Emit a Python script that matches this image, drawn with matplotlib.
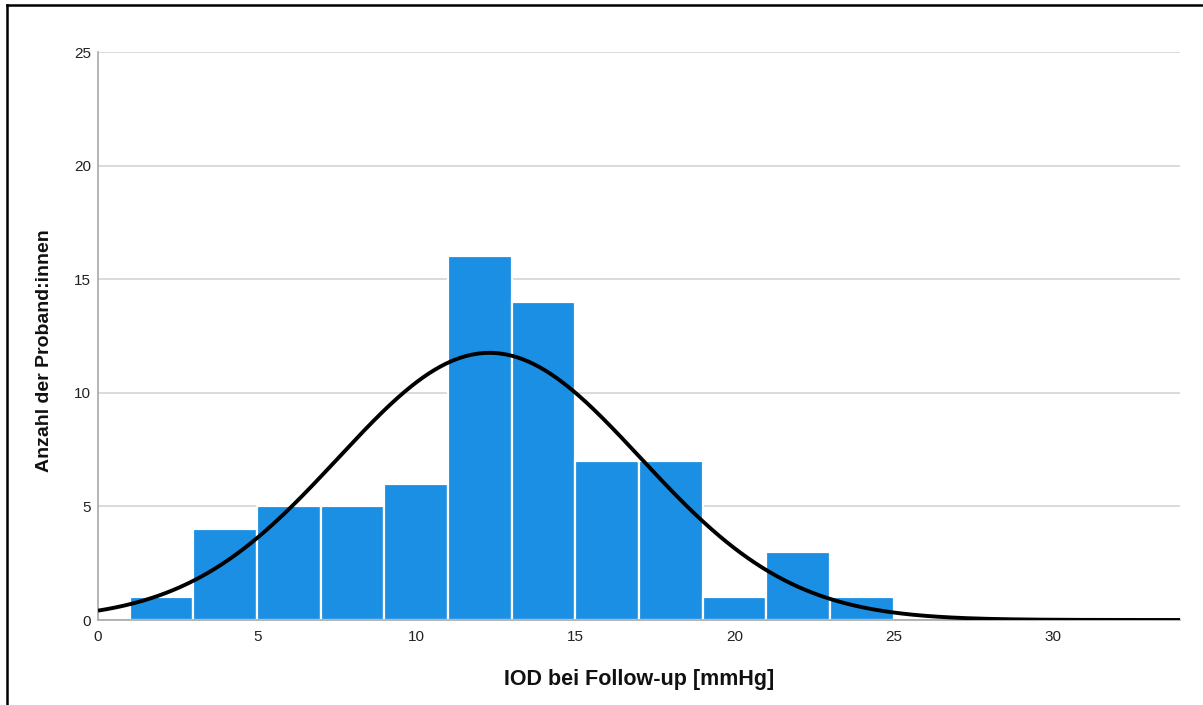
import numpy as np
import matplotlib
matplotlib.use("Agg")
import matplotlib.pyplot as plt
from matplotlib.lines import Line2D

# Data
bin_left = [1, 3, 5, 7, 9, 11, 13, 15, 17, 19, 21, 23]
counts = [1, 4, 5, 5, 6, 16, 14, 7, 7, 1, 3, 1]
bin_width = 2
fit_mean = 12.3
fit_sd = 4.75
x_ticks = [0, 5, 10, 15, 20, 25, 30]
y_ticks = [0, 5, 10, 15, 20, 25]
x_label = "IOD bei Follow-up [mmHg]"
y_label = "Anzahl der Proband:innen"

plt.rcParams['font.family'] = ['Liberation Sans', 'DejaVu Sans']

fig = plt.figure(figsize=(12.03, 7.05), dpi=100)
ax = fig.add_axes([98/1203, 1-620/705, (1180-98)/1203, (620-52)/705])

ax.bar(bin_left, counts, width=bin_width, align='edge', color='#1a8fe3',
       edgecolor='white', linewidth=1.6, zorder=2)

n_total = sum(counts)
xs = np.linspace(0, 34, 600)
ys = n_total * bin_width / (fit_sd * np.sqrt(2*np.pi)) * np.exp(-0.5*((xs-fit_mean)/fit_sd)**2)
ax.plot(xs, ys, color='black', linewidth=2.8, zorder=3, solid_capstyle='butt')

ax.set_xlim(0, 34)
ax.set_ylim(0, 25)
ax.set_xticks(x_ticks)
ax.set_yticks(y_ticks)
ax.yaxis.grid(True, color='#d4d4d4', linewidth=1.2, zorder=0)
ax.set_axisbelow(True)
for s in ['top', 'right']:
    ax.spines[s].set_visible(False)
ax.spines['left'].set_color('#a8a8a8')
ax.spines['bottom'].set_color('#a8a8a8')
ax.spines['left'].set_linewidth(1.2)
ax.spines['bottom'].set_linewidth(1.2)
ax.tick_params(axis='both', length=0, labelsize=11, colors='#222222')
ax.tick_params(axis='x', pad=7)
ax.tick_params(axis='y', pad=5)

ax.set_xlabel(x_label, fontsize=15.5, color='#111111', fontweight='bold', labelpad=18)
fig.text(45/1203, 1-351/705, y_label, rotation=90, fontsize=14, color='#111111',
         fontweight='bold', ha='center', va='center')

# outer frame (left and top edges visible)
fig.add_artist(Line2D([7/1203, 7/1203], [0, 1-5/705], transform=fig.transFigure, color='black', linewidth=1.8))
fig.add_artist(Line2D([7/1203, 1], [1-5/705, 1-5/705], transform=fig.transFigure, color='black', linewidth=1.8))

fig.savefig('out.png', dpi=100)
